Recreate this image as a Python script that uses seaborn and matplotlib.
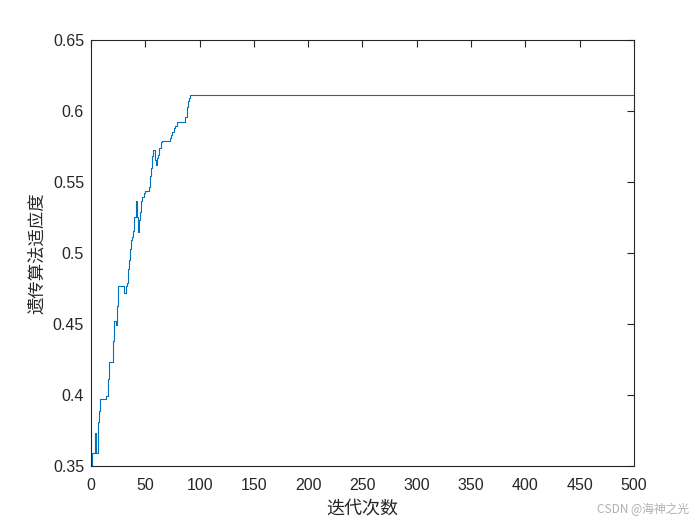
import matplotlib
matplotlib.use("Agg")
import matplotlib.pyplot as plt
import seaborn as sns
import pandas as pd

# best fitness per generation at each point where it changes
iters = [0, 1, 4, 5, 6, 7, 8, 14, 16, 17, 20, 21, 23, 24, 25, 30, 32, 33, 34,
         35, 36, 37, 38, 39, 40, 41, 42, 43, 44, 45, 46, 47, 49, 50, 53, 54, 55,
         56, 57, 59, 60, 61, 62, 63, 64, 65, 73, 74, 75, 76, 77, 79, 87, 88, 89,
         90, 91, 500]
fitness = [0.350, 0.359, 0.373, 0.359, 0.381, 0.389, 0.397, 0.399, 0.411, 0.423,
           0.438, 0.452, 0.449, 0.463, 0.477, 0.472, 0.477, 0.479, 0.489, 0.495,
           0.503, 0.509, 0.5115, 0.5155, 0.5256, 0.5366, 0.5256, 0.515, 0.523,
           0.529, 0.5366, 0.5397, 0.5425, 0.544, 0.5467, 0.554, 0.560, 0.568,
           0.5725, 0.5655, 0.562, 0.5667, 0.569, 0.5737, 0.5784, 0.579, 0.5808,
           0.583, 0.5854, 0.5878, 0.5897, 0.592, 0.5956, 0.603, 0.6073, 0.609,
           0.6113, 0.6113]
xticks = [0, 50, 100, 150, 200, 250, 300, 350, 400, 450, 500]
yticks = [0.35, 0.4, 0.45, 0.5, 0.55, 0.6, 0.65]
ytick_labels = ["0.35", "0.4", "0.45", "0.5", "0.55", "0.6", "0.65"]

df = pd.DataFrame({"iter": iters, "fit": fitness})

sns.set_style("white")
plt.rcParams['font.family'] = ['Liberation Sans', 'Noto Sans CJK SC', 'DejaVu Sans']

fig = plt.figure(figsize=(7, 5.25), dpi=100)
ax = fig.add_axes([0.13, 0.1124, 0.7757, 0.8114])

sns.lineplot(data=df, x="iter", y="fit", ax=ax, color="#0072BD", linewidth=0.8,
             drawstyle="steps-post", estimator=None, sort=False)

ax.set_xlim(0, 500)
ax.set_ylim(0.35, 0.65)
ax.set_xticks(xticks)
ax.set_yticks(yticks)
ax.set_yticklabels(ytick_labels)
ax.tick_params(direction="in", top=True, right=True, length=5, width=0.8,
               colors="#262626", labelsize=11.5)
ax.tick_params(axis="x", pad=9)
ax.tick_params(axis="y", pad=5)
for s in ax.spines.values():
    s.set_color("#262626")
    s.set_linewidth(0.8)

cjk = ['Noto Sans CJK SC', 'DejaVu Sans']
ax.set_xlabel("迭代次数", family=cjk, fontsize=13, color="#262626", labelpad=4)
ax.set_ylabel("遗传算法适应度", family=cjk, fontsize=12.5, color="#262626", labelpad=5)

fig.text(0.985, 0.018, "CSDN @海神之光", family=cjk, fontsize=8.5, color="#b0b0b0",
         ha="right", va="bottom")

fig.savefig("out.png", dpi=100, facecolor="white")
